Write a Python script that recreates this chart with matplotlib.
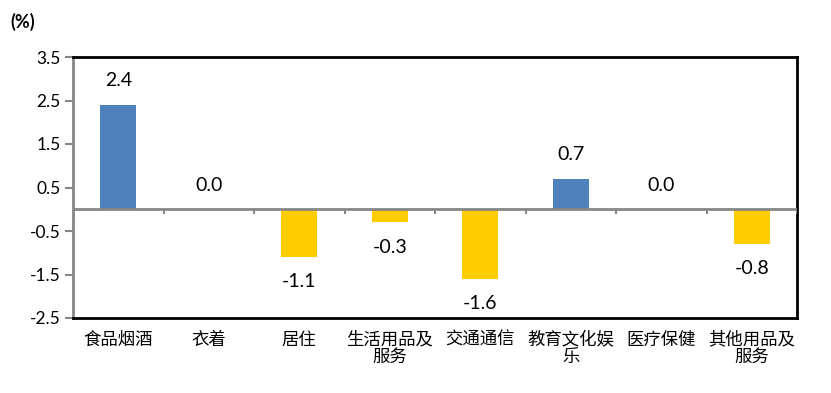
import matplotlib
matplotlib.use("Agg")
import matplotlib.pyplot as plt
import numpy as np

categories = ["食品烟酒", "衣着", "居住", "生活用品及\n服务", "交通通信", "教育文化娱\n乐", "医疗保健", "其他用品及\n服务"]
values = [2.4, 0.0, -1.1, -0.3, -1.6, 0.7, 0.0, -0.8]
yticks = [-2.5, -1.5, -0.5, 0.5, 1.5, 2.5, 3.5]

BLUE = "#4F81BD"
YELLOW = "#FFCC00"
GRAY = "#868686"

fig = plt.figure(figsize=(8.31, 3.93), dpi=100)
ax = fig.add_axes([73/831, 75/393, 724/831, 261/393])

x = np.arange(len(values))
colors = [BLUE if v >= 0 else YELLOW for v in values]
ax.bar(x, values, width=0.4, color=colors, zorder=2)

ax.set_xlim(-0.5, len(values) - 0.5)
ax.set_ylim(-2.5, 3.5)
ax.set_yticks(yticks)
ax.set_yticklabels([f"{t:.1f}" for t in yticks], fontsize=12.5, family=["Lato", "DejaVu Sans"])
ax.tick_params(axis="y", direction="out", length=6, width=1.5, color=GRAY, pad=3)

ax.set_xticks(x)
ax.set_xticklabels(categories, fontsize=12.5, family=["Noto Sans CJK SC", "DejaVu Sans"], linespacing=0.95)
ax.tick_params(axis="x", length=0, pad=9)

for s in ["top", "right", "bottom"]:
    ax.spines[s].set_color("black")
    ax.spines[s].set_linewidth(2)
ax.spines["left"].set_color(GRAY)
ax.spines["left"].set_linewidth(2)

# zero line with category boundary ticks
ax.axhline(0, color=GRAY, lw=2, zorder=3)
bounds = np.arange(len(values) + 1) - 0.5
ax.vlines(bounds[1:], -0.1, 0, color=GRAY, lw=1.5, zorder=3)

for xi, v in zip(x, values):
    if v > 0:
        y = v + 0.57
    elif v < 0:
        y = v - 0.57
    else:
        y = 0.55
    ax.text(xi, y, f"{v:.1f}", ha="center", va="center", fontsize=14, family=["Lato", "DejaVu Sans"])

fig.text(10/831, 1 - 22/393, "(%)", ha="left", va="center", fontsize=13, fontweight="bold", family=["Lato", "DejaVu Sans"])

fig.savefig("out.png", dpi=100)
